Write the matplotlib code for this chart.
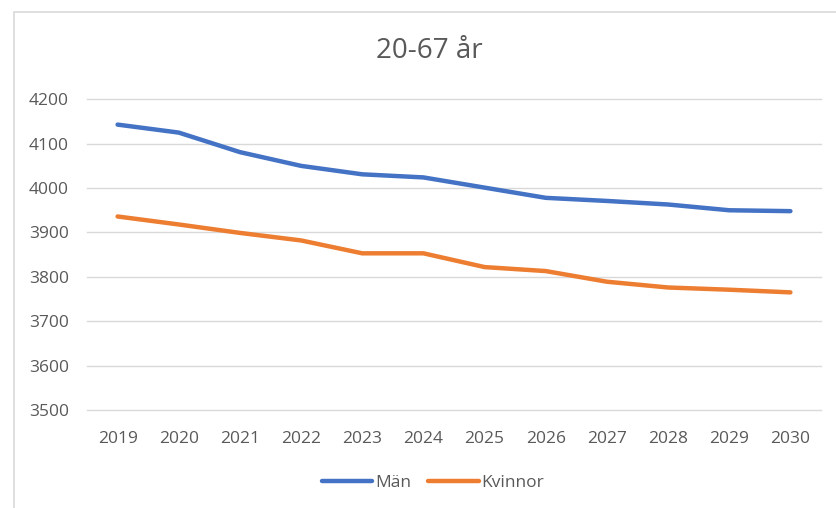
import matplotlib
matplotlib.use("Agg")
import matplotlib.pyplot as plt
from matplotlib.patches import Rectangle

years = ["2019", "2020", "2021", "2022", "2023", "2024", "2025", "2026", "2027", "2028", "2029", "2030"]
man = [4143, 4125, 4081, 4050, 4031, 4024, 4001, 3978, 3971, 3963, 3950, 3948]
kvinnor = [3936, 3918, 3899, 3882, 3853, 3853, 3822, 3813, 3789, 3776, 3771, 3765]
yticks = [3500, 3600, 3700, 3800, 3900, 4000, 4100, 4200]

plt.rcParams['font.family'] = ['Open Sans', 'DejaVu Sans']
W, H = 837, 508
fig = plt.figure(figsize=(W/100, H/100), dpi=100)
fig.patches.append(Rectangle((14/W, -0.1), 1.2, (H-12)/H + 0.1, transform=fig.transFigure,
                             fill=False, edgecolor='#D9D9D9', linewidth=1.2))

ax = fig.add_axes([87/W, 1-410/H, (821-87)/W, (410-99.3)/H])
x = list(range(len(years)))
ax.plot(x, man, color='#4472C4', linewidth=3.2, solid_capstyle='round', label='Män')
ax.plot(x, kvinnor, color='#ED7D31', linewidth=3.2, solid_capstyle='round', label='Kvinnor')

ax.set_xlim(-0.5, len(years)-0.5)
ax.set_ylim(3500, 4200)
ax.set_yticks(yticks)
ax.set_yticklabels([str(v) for v in yticks])
ax.set_xticks(x)
ax.set_xticklabels(years)
ax.grid(axis='y', color='#D9D9D9', linewidth=1)
for gl in ax.get_ygridlines():
    gl.set_clip_on(False)
ax.set_axisbelow(True)
for s in ax.spines.values():
    s.set_visible(False)
ax.tick_params(length=0, labelsize=12.5, colors='#595959')
ax.tick_params(axis='x', pad=15)
ax.tick_params(axis='y', pad=13)

fig.text(429/W, 1-51/H, "20-67 år", ha='center', va='center', fontsize=20, color='#595959')

leg = fig.legend(loc='center', bbox_to_anchor=(433/W, 1-483/H), ncol=2, frameon=False,
                 fontsize=12.5, handlelength=2.9, columnspacing=1.0, handletextpad=0.15)
for t in leg.get_texts():
    t.set_color('#595959')

fig.savefig("out.png", dpi=100)
